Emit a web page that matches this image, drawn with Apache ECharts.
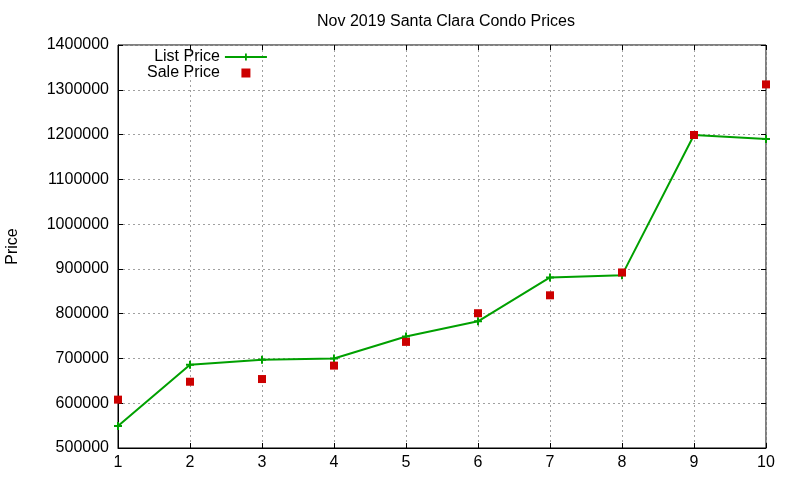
<!DOCTYPE html>
<html>
<head>
<meta charset="utf-8">
<script src="https://cdn.jsdelivr.net/npm/echarts@6/dist/echarts.min.js"></script>
<style>
  html, body { margin: 0; padding: 0; background: #fff; }
  #main { width: 800px; height: 480px; }
</style>
</head>
<body>
<div id="main"></div>
<script>
// listing number on the x axis
var listings = [1, 2, 3, 4, 5, 6, 7, 8, 9, 10];
// asking price per listing
var listPrice = [549000, 686000, 697000, 700000, 749000, 783000, 881000, 886000, 1199000, 1190000];
// closing price per listing
var salePrice = [608000, 648000, 654000, 684000, 737000, 801000, 841000, 892000, 1199000, 1312000];

var font = '"Liberation Sans", Arial, sans-serif';
var fs = 16;
var plusIcon = 'path://M3,0H5V3H8V5H5V8H3V5H0V3H3Z';
var squareIcon = 'path://M0,0H10V10H0Z';

function pairs(xs, ys) {
  return xs.map(function(x, i){ return [x, ys[i]]; });
}

var chart = echarts.init(document.getElementById('main'));

// ticks mirrored on the top and right edges
var mirror = {
  show: true,
  axisLine: { show: false },
  axisTick: { show: true, inside: true, length: 5, lineStyle: { color: '#000' } },
  axisLabel: { show: false },
  splitLine: { show: false }
};

chart.setOption({
  animation: false,
  backgroundColor: '#fff',
  textStyle: { fontFamily: font },
  title: {
    text: 'Nov 2019 Santa Clara Condo Prices',
    left: 441,
    top: 9,
    textAlign: 'center',
    textStyle: { fontFamily: font, fontSize: fs, fontWeight: 'normal', color: '#000' }
  },
  legend: {
    orient: 'vertical',
    left: 142,
    top: 44,
    align: 'right',
    itemWidth: 42,
    itemHeight: 9,
    itemGap: 0,
    selectedMode: false,
    textStyle: { fontFamily: font, fontSize: fs, color: '#000', lineHeight: 15 },
    data: [
      { name: 'List Price' },
      { name: 'Sale Price', icon: squareIcon }
    ]
  },
  grid: {
    left: 118, right: 34, top: 45, bottom: 32,
    containLabel: false,
    outerBoundsMode: 'none',
    show: true, borderColor: '#000', borderWidth: 1
  },
  xAxis: [{
    type: 'value',
    min: 1, max: 10, interval: 1,
    axisLine: { show: true, lineStyle: { color: '#000' } },
    axisTick: { inside: true, length: 5, lineStyle: { color: '#000' } },
    axisLabel: { color: '#000', fontFamily: font, fontSize: fs, margin: 7 },
    splitLine: { show: true, lineStyle: { color: '#a0a0a0', type: [2, 3], width: 1 } }
  }, Object.assign({ type: 'value', position: 'top', min: 1, max: 10, interval: 1 }, mirror)],
  yAxis: [{
    type: 'value',
    name: 'Price',
    nameLocation: 'middle',
    nameGap: 97,
    nameRotate: 90,
    nameTextStyle: { color: '#000', fontFamily: font, fontSize: fs },
    min: 500000, max: 1400000, interval: 100000,
    axisLine: { show: true, lineStyle: { color: '#000' } },
    axisTick: { inside: true, length: 5, lineStyle: { color: '#000' } },
    axisLabel: { color: '#000', fontFamily: font, fontSize: fs, margin: 9,
      formatter: function(v){ return String(v); } },
    splitLine: { show: true, lineStyle: { color: '#a0a0a0', type: [2, 3], width: 1 } }
  }, Object.assign({ type: 'value', position: 'right', min: 500000, max: 1400000, interval: 100000 }, mirror)],
  series: [{
    name: 'List Price',
    type: 'line',
    data: pairs(listings, listPrice),
    symbol: plusIcon,
    symbolSize: 8,
    showAllSymbol: true,
    itemStyle: { color: '#00a000' },
    lineStyle: { color: '#00a000', width: 2 },
    z: 3
  }, {
    name: 'Sale Price',
    type: 'scatter',
    data: pairs(listings, salePrice),
    symbol: 'rect',
    symbolSize: 8,
    itemStyle: { color: '#cc0000', opacity: 1 },
    z: 4
  }]
});
</script>
</body>
</html>
